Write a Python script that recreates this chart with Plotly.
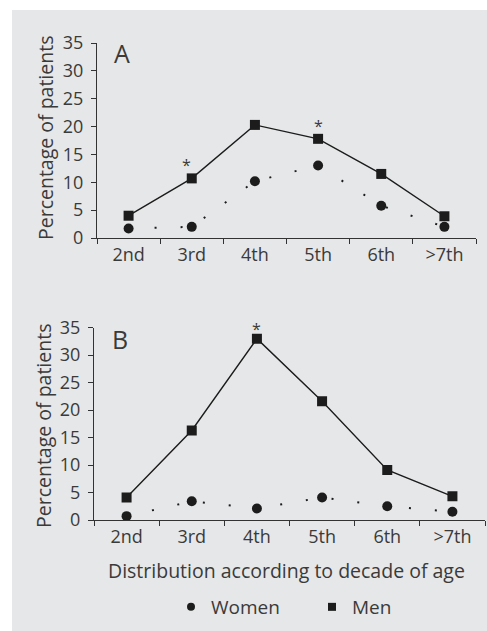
import plotly.graph_objects as go

W, H = 487, 631

categories = ["2nd", "3rd", "4th", "5th", "6th", ">7th"]
women_a = [1.7, 2.0, 10.2, 13.0, 5.8, 2.0]
men_a = [4.0, 10.7, 20.3, 17.8, 11.5, 3.9]
women_b = [0.7, 3.4, 2.1, 4.1, 2.5, 1.5]
men_b = [4.1, 16.3, 33.0, 21.6, 9.1, 4.3]
y_ticks = [0, 5, 10, 15, 20, 25, 30, 35]

FONT = "Open Sans"
TXT = "#3a3a3a"
INK = "#1c1c1c"

def px(x):
    return x / W

def py(y):
    return 1 - y / H

fig = go.Figure()

def add_panel(xa, ya, women, men):
    fig.add_trace(go.Scatter(
        x=categories, y=women, xaxis=xa, yaxis=ya, mode="lines+markers",
        line=dict(color=INK, width=2, dash="2px,24px"),
        marker=dict(symbol="circle", size=10, color=INK),
        showlegend=False, hoverinfo="skip"))
    fig.add_trace(go.Scatter(
        x=categories, y=men, xaxis=xa, yaxis=ya, mode="lines+markers",
        line=dict(color=INK, width=1.4),
        marker=dict(symbol="square", size=10, color=INK),
        showlegend=False, hoverinfo="skip"))

add_panel("x", "y", women_a, men_a)
add_panel("x2", "y2", women_b, men_b)

# legend entries
fig.add_trace(go.Scatter(x=[None], y=[None], mode="markers", name="Women",
                         marker=dict(symbol="circle", size=8, color=INK)))
fig.add_trace(go.Scatter(x=[None], y=[None], mode="markers", name="Men",
                         marker=dict(symbol="square", size=8, color=INK)))

xcommon = dict(type="category", range=[-0.5, 5.5], showline=True, linecolor="#333",
               linewidth=1.3, ticks="outside", tickson="boundaries", ticklen=5,
               tickcolor="#333", tickwidth=1.3, showgrid=False, zeroline=False,
               automargin=False, tickfont=dict(family=FONT, size=18, color=TXT),
               categoryorder="array", categoryarray=categories)
ycommon = dict(range=[0, 35], tickvals=y_ticks, showline=True, linecolor="#333",
               linewidth=1.3, ticks="outside", ticklen=5, tickcolor="#333",
               tickwidth=1.3, showgrid=False, zeroline=False, automargin=False,
               ticklabelstandoff=4,
               tickfont=dict(family=FONT, size=18, color=TXT))

fig.update_layout(
    width=W, height=H, template="none",
    margin=dict(l=0, r=0, t=0, b=0),
    paper_bgcolor="white", plot_bgcolor="rgba(0,0,0,0)",
    xaxis=dict(domain=[px(97), px(476)], anchor="y", **xcommon),
    yaxis=dict(domain=[py(238), py(43)], anchor="x", **ycommon),
    xaxis2=dict(domain=[px(94), px(485)], anchor="y2", **xcommon),
    yaxis2=dict(domain=[py(520), py(327.7)], anchor="x2", **ycommon),
    showlegend=True,
    legend=dict(orientation="h", x=px(171), xanchor="left", y=py(607), yanchor="middle",
                font=dict(family=FONT, size=19, color=TXT), bgcolor="rgba(0,0,0,0)",
                entrywidth=96, entrywidthmode="pixels"),
    shapes=[dict(type="rect", xref="paper", yref="paper", x0=px(12), x1=1, y0=0, y1=py(10),
                 fillcolor="#e6e7e8", line=dict(width=0), layer="below")],
)

def txt(text, x, y, size=19.5, angle=0):
    return dict(text=text, x=px(x), y=py(y), xref="paper", yref="paper", textangle=angle,
                xanchor="center", yanchor="middle", showarrow=False,
                font=dict(family=FONT, size=size, color=TXT))

ann = [
    txt("Percentage of patients", 45, 138, angle=-90),
    txt("Percentage of patients", 43, 426, angle=-90),
    txt("Distribution according to decade of age", 286, 570),
    txt("A", 122, 53, size=25),
    txt("B", 120, 339, size=25),
]
# significance asterisks
for xa, ya, cat, val, xs, ys in [("x", "y", "3rd", men_a[1], -5, 0), ("x", "y", "5th", men_a[3], 0, 0),
                                 ("x2", "y2", "4th", men_b[2], 0, -3)]:
    ann.append(dict(text="*", x=cat, y=val, xref=xa, yref=ya, showarrow=False,
                    yanchor="bottom", yshift=ys, xshift=xs,
                    font=dict(family=FONT, size=16, color=TXT)))
fig.update_layout(annotations=ann)

fig.write_html("out.html")
